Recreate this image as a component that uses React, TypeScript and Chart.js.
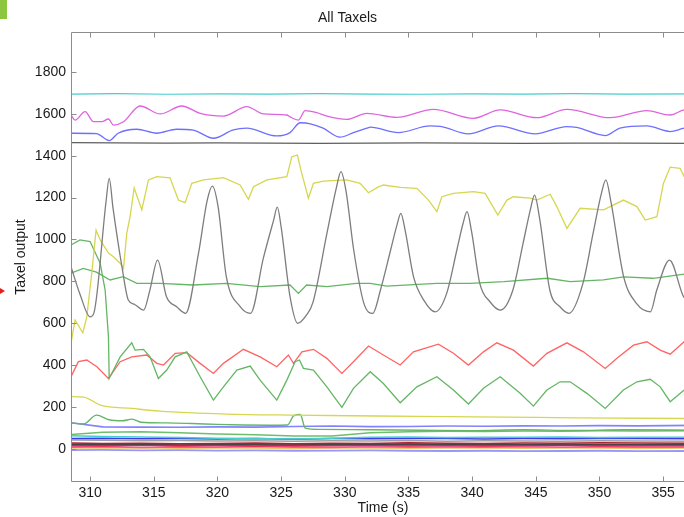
import React, { useEffect, useRef } from "react";
import { Chart, registerables } from "chart.js";

Chart.register(...registerables);

// ---- axes ----
const X_MIN = 308.5;
const X_MAX = 357.5;
const Y_MIN = -157;
const Y_MAX = 1990;
const X_TICKS = [310, 315, 320, 325, 330, 335, 340, 345, 350, 355];
const Y_TICKS = [0, 200, 400, 600, 800, 1000, 1200, 1400, 1600, 1800];

// ---- big gray oscillating taxel ----
const GRAY_T = [308.5, 309.2, 310, 310.3, 311.25, 311.5, 311.8, 312.5, 313.0, 313.5, 314.2, 314.7, 315.3, 316.0, 316.8, 317.5, 318.5, 319.2, 319.6, 320.05, 320.7, 321.8, 322.6, 323.6, 324.4, 324.7, 325.0, 325.7, 326.3, 327.0, 327.5, 328.6, 329.35, 329.7, 330.1, 330.7, 331.5, 332.2, 332.8, 333.6, 334.1, 334.4, 334.75, 335.4, 336.2, 337.1, 338.0, 338.8, 339.3, 339.6, 339.95, 340.6, 341.4, 342.2, 343.2, 344.0, 344.6, 344.9, 345.3, 346.1, 346.9, 347.6, 348.7, 349.5, 350.15, 350.5, 350.9, 351.9, 352.9, 354.0, 354.5, 355.5, 356.6, 357.5];
const GRAY_V = [870, 740, 631, 650, 1180, 1292, 1150, 870, 711, 690, 663, 760, 902, 727, 679, 648, 930, 1188, 1255, 1157, 822, 679, 648, 910, 1090, 1154, 1060, 727, 600, 640, 700, 1030, 1250, 1324, 1230, 950, 695, 648, 759, 950, 1070, 1125, 1040, 822, 711, 655, 743, 950, 1080, 1133, 1040, 791, 703, 663, 759, 982, 1150, 1212, 1100, 759, 679, 648, 791, 1030, 1220, 1284, 1180, 822, 695, 655, 759, 902, 727, 680];

// ---- upper yellow taxel ----
const YEL_T = [308.5, 308.82, 309.43, 309.74, 310.13, 310.47, 310.79, 311.44, 311.83, 312.36, 312.62, 312.88, 313.14, 313.46, 314.06, 314.58, 315.24, 316.28, 316.93, 317.46, 317.99, 318.9, 320.47, 321.78, 322.43, 322.83, 323.88, 325.45, 325.84, 326.28, 326.55, 327.14, 327.54, 328.32, 330.16, 331.2, 331.86, 332.6, 333.03, 334.35, 335.66, 336.57, 337.23, 337.62, 338.53, 340.1, 341.02, 341.55, 342.02, 342.73, 343.24, 344.56, 345.08, 346.13, 346.65, 347.44, 348.48, 350.31, 350.84, 351.88, 352.94, 353.59, 354.51, 355.02, 355.55, 356.33, 356.65, 357.5];
const YEL_V = [506, 616, 555, 631, 840, 1045, 998, 935, 918, 887, 862, 1031, 1109, 1246, 1141, 1284, 1300, 1294, 1188, 1176, 1268, 1284, 1295, 1260, 1192, 1252, 1284, 1300, 1395, 1403, 1332, 1197, 1268, 1279, 1284, 1268, 1223, 1250, 1260, 1249, 1244, 1188, 1133, 1204, 1220, 1228, 1220, 1165, 1117, 1188, 1204, 1197, 1188, 1216, 1157, 1053, 1149, 1141, 1157, 1188, 1157, 1093, 1109, 1268, 1345, 1340, 1300, 1290];

// ---- green taxel: high at start, drops, then oscillates ----
const GRN_T = [308.5, 309.21, 310.0, 310.79, 311.18, 311.44, 311.5, 312.36, 313.27, 313.53, 314.19, 314.71, 315.36, 316.02, 316.68, 317.59, 318.64, 319.68, 320.47, 321.52, 322.57, 323.35, 324.66, 325.45, 326.1, 326.44, 326.75, 327.54, 328.59, 329.77, 330.68, 332.0, 333.03, 334.35, 335.66, 337.23, 338.53, 339.71, 340.89, 342.2, 343.77, 344.81, 345.87, 346.91, 347.7, 349.01, 350.45, 351.88, 352.94, 353.98, 354.77, 355.55, 356.65, 357.5];
const GRN_V = [974, 998, 990, 887, 759, 536, 337, 440, 507, 472, 476, 440, 337, 377, 440, 464, 345, 234, 297, 377, 396, 329, 234, 329, 417, 425, 385, 377, 297, 199, 290, 369, 313, 221, 297, 345, 282, 215, 290, 345, 266, 205, 282, 321, 321, 266, 194, 282, 321, 333, 297, 226, 282, 320];

// ---- red taxel ----
const RED_T = [308.5, 309.08, 309.74, 310.53, 311.44, 312.36, 313.27, 314.45, 315.24, 315.76, 316.68, 317.59, 318.64, 319.68, 320.47, 322.04, 323.35, 324.66, 325.57, 325.97, 326.63, 327.54, 328.59, 329.77, 330.68, 331.86, 333.03, 334.35, 335.39, 337.35, 338.53, 339.71, 340.89, 341.94, 343.24, 344.81, 345.87, 347.44, 348.74, 350.45, 351.37, 352.67, 353.72, 354.77, 355.55, 356.65, 357.5];
const RED_V = [345, 417, 425, 393, 337, 417, 440, 449, 409, 401, 457, 460, 409, 361, 409, 476, 440, 393, 449, 409, 464, 476, 433, 361, 417, 492, 449, 401, 464, 501, 457, 401, 464, 507, 472, 396, 457, 507, 464, 385, 433, 496, 512, 472, 453, 512, 505];

// ---- green taxel near 800 ----
const GMID_T = [308.5, 309.47, 310.5, 311.57, 312.6, 313.67, 315.5, 318.1, 320.7, 323.35, 325.7, 326.36, 327.0, 328.6, 330.9, 332.0, 333.3, 337.2, 339.8, 342.5, 345.9, 347.7, 350.3, 351.9, 354.2, 356.65, 357.5];
const GMID_V = [839, 862, 844, 807, 823, 791, 791, 783, 791, 775, 783, 743, 783, 775, 791, 791, 778, 791, 791, 799, 815, 799, 807, 822, 815, 835, 840];

// ---- lower yellow taxel (slow decay) ----
const YLOW_T = [308.5, 309.5, 310.8, 313.3, 315.5, 320.7, 325.9, 332.6, 345.0, 356.65, 357.5];
const YLOW_V = [250, 248, 210, 194, 181, 167, 162, 158, 151, 146, 146];

// ---- top band taxels ----
const MAG_T = [308.5, 308.82, 309.61, 310.26, 310.92, 311.44, 311.83, 312.62, 313.93, 315.5, 317.2, 318.64, 320.47, 322.31, 323.61, 325.45, 325.7, 326.36, 326.89, 327.8, 328.59, 330.16, 331.73, 334.09, 336.96, 340.1, 342.2, 345.08, 347.44, 350.84, 353.72, 355.55, 356.65, 357.5];
const MAG_V = [1594, 1570, 1610, 1562, 1562, 1575, 1546, 1562, 1637, 1599, 1637, 1602, 1589, 1634, 1599, 1594, 1585, 1570, 1615, 1605, 1589, 1573, 1602, 1583, 1621, 1578, 1618, 1581, 1621, 1581, 1615, 1594, 1618, 1620];

const BLU_T = [308.5, 310.5, 311.5, 312.2, 313.67, 315.24, 316.8, 318.1, 319.68, 321.25, 322.3, 324.66, 325.7, 326.5, 327.3, 328.3, 329.63, 330.68, 331.73, 332.0, 334.2, 336.7, 337.5, 339.7, 342.07, 344.95, 347.44, 348.2, 350.45, 351.6, 353.72, 355.55, 356.65, 357.5];
const BLU_V = [1507, 1505, 1472, 1507, 1526, 1507, 1526, 1522, 1483, 1523, 1531, 1494, 1510, 1557, 1552, 1531, 1488, 1510, 1531, 1536, 1510, 1542, 1540, 1504, 1542, 1504, 1539, 1535, 1496, 1531, 1542, 1515, 1531, 1535];

const FLAT_T = [308.5, 312, 316, 320, 324, 328, 332, 336, 340, 344, 348, 352, 357.5];
const CYAN_V = [1694, 1696, 1693, 1695, 1694, 1696, 1694, 1693, 1695, 1694, 1696, 1694, 1695];
const BLACK_V = [1462, 1461, 1460, 1461, 1460, 1459, 1460, 1461, 1460, 1459, 1460, 1460, 1459];

// ---- low green with bumps ----
const GL1_T = [308.5, 309.5, 310.5, 311.5, 312.5, 313.3, 314, 316, 318, 320, 322, 324, 325.5, 326.0, 326.5, 326.9, 328, 332, 336, 340, 344, 348, 352, 357.5];
const GL1_V = [125, 120, 162, 140, 135, 143, 128, 125, 122, 118, 115, 114, 115, 160, 165, 100, 94, 92, 90, 88, 92, 89, 92, 90];

// ---- low-level taxels near zero ----
const LOW_T = [308.5, 311, 314, 317, 320, 323, 326, 329, 332, 335, 338, 341, 344, 347, 350, 353, 357.5];
const LOW_BLUE1 = [126, 106, 105, 104, 106, 105, 108, 110, 107, 108, 110, 109, 111, 110, 112, 111, 113];
const LOW_GREEN2 = [70, 80, 83, 78, 72, 68, 63, 62, 78, 83, 85, 84, 86, 85, 87, 86, 88];
const LOW_CYAN = [64, 60, 58, 55, 52, 50, 48, 52, 56, 58, 55, 57, 56, 58, 55, 57, 56];
const LOW_BLUE2 = [50, 52, 49, 50, 48, 51, 47, 50, 49, 51, 50, 48, 50, 49, 51, 50, 49];
const LOW_GRAY = [43, 42, 40, 41, 39, 40, 38, 40, 39, 41, 38, 40, 39, 38, 40, 39, 38];
const LOW_DKRED = [29, 27, 28, 26, 27, 29, 26, 28, 27, 30, 28, 27, 29, 28, 30, 29, 28];
const LOW_BLACK = [22, 21, 23, 20, 22, 21, 20, 22, 21, 23, 22, 21, 22, 20, 22, 21, 22];
const LOW_RED1 = [18, 15, 20, 16, 19, 14, 18, 17, 20, 15, 19, 16, 18, 20, 15, 18, 17];
const LOW_RED2 = [24, 20, 22, 18, 23, 21, 24, 19, 22, 25, 21, 23, 20, 24, 22, 21, 23];
const LOW_PINK = [10, 12, 8, 11, 9, 13, 10, 8, 12, 9, 11, 10, 12, 9, 11, 10, 9];
const LOW_YEL = [6, 5, 7, 4, 6, 5, 3, 6, 5, 4, 6, 5, 4, 6, 5, 3, 5];
const LOW_LAV = [-5, -4, -6, -5, -7, -6, -8, -7, -6, -8, -9, -8, -10, -9, -8, -10, -9];

const SERIES = [
  { name: "gray", t: GRAY_T, v: GRAY_V, color: "rgb(125,125,125)", w: 1.3, smooth: true },
  { name: "yellow", t: YEL_T, v: YEL_V, color: "rgb(214,214,80)", w: 1.3, smooth: false },
  { name: "green", t: GRN_T, v: GRN_V, color: "rgb(100,182,100)", w: 1.3, smooth: false },
  { name: "red", t: RED_T, v: RED_V, color: "rgb(255,100,100)", w: 1.3, smooth: false },
  { name: "green800", t: GMID_T, v: GMID_V, color: "rgb(100,182,100)", w: 1.3, smooth: false },
  { name: "yellowLow", t: YLOW_T, v: YLOW_V, color: "rgb(214,214,80)", w: 1.3, smooth: true },
  { name: "magenta", t: MAG_T, v: MAG_V, color: "rgb(222,100,222)", w: 1.3, smooth: true },
  { name: "blue", t: BLU_T, v: BLU_V, color: "rgb(110,110,255)", w: 1.3, smooth: true },
  { name: "cyan", t: FLAT_T, v: CYAN_V, color: "rgb(70,205,205)", w: 1.2, smooth: false },
  { name: "black", t: FLAT_T, v: BLACK_V, color: "rgb(95,95,95)", w: 1.2, smooth: false },
  { name: "greenLow1", t: GL1_T, v: GL1_V, color: "rgb(100,182,100)", w: 1.4, smooth: true },
  { name: "blueLow1", t: LOW_T, v: LOW_BLUE1, color: "rgb(130,130,255)", w: 1.6, smooth: false },
  { name: "greenLow2", t: LOW_T, v: LOW_GREEN2, color: "rgb(110,190,110)", w: 1.5, smooth: false },
  { name: "cyanLow", t: LOW_T, v: LOW_CYAN, color: "rgb(70,205,205)", w: 1.5, smooth: false },
  { name: "blueLow2", t: LOW_T, v: LOW_BLUE2, color: "rgb(60,60,235)", w: 1.5, smooth: false },
  { name: "grayLow", t: LOW_T, v: LOW_GRAY, color: "rgb(160,160,160)", w: 1.5, smooth: false },
  { name: "darkRedLow", t: LOW_T, v: LOW_DKRED, color: "rgb(175,30,50)", w: 1.5, smooth: false },
  { name: "blackLow", t: LOW_T, v: LOW_BLACK, color: "rgb(70,70,70)", w: 1.3, smooth: false },
  { name: "redLow1", t: LOW_T, v: LOW_RED1, color: "rgb(240,40,80)", w: 1.8, smooth: false },
  { name: "redLow2", t: LOW_T, v: LOW_RED2, color: "rgb(255,110,110)", w: 1.8, smooth: false },
  { name: "pinkLow", t: LOW_T, v: LOW_PINK, color: "rgb(240,90,160)", w: 1.8, smooth: false },
  { name: "yellowLow2", t: LOW_T, v: LOW_YEL, color: "rgb(230,200,100)", w: 1.6, smooth: false },
  { name: "lavenderLow", t: LOW_T, v: LOW_LAV, color: "rgb(150,150,255)", w: 1.8, smooth: false },
];

const AXIS_COLOR = "#8c8c8c";
const FONT = "'Liberation Sans', Arial, Helvetica, sans-serif";

const boxPlugin = {
  id: "matlabBox",
  afterDatasetsDraw(chart: any) {
    const { ctx, chartArea, scales } = chart;
    const { left, right, top, bottom } = chartArea;
    const xs = scales.x;
    const ys = scales.y;
    const L = Math.round(left) + 0.5;
    const R = Math.round(right) - 0.5;
    const T = Math.round(top) + 0.5;
    const B = Math.round(bottom) - 0.5;
    ctx.save();
    ctx.strokeStyle = AXIS_COLOR;
    ctx.lineWidth = 1;
    ctx.beginPath();
    ctx.rect(L, T, R - L, B - T);
    const tl = 5;
    for (const v of X_TICKS) {
      const px = Math.round(xs.getPixelForValue(v)) + 0.5;
      ctx.moveTo(px, B);
      ctx.lineTo(px, B - tl);
      ctx.moveTo(px, T);
      ctx.lineTo(px, T + tl);
    }
    for (const v of Y_TICKS) {
      const py = Math.round(ys.getPixelForValue(v)) + 0.5;
      ctx.moveTo(L, py);
      ctx.lineTo(L + tl, py);
      ctx.moveTo(R, py);
      ctx.lineTo(R - tl, py);
    }
    ctx.stroke();
    ctx.restore();
  },
};

export default function App() {
  const ref = useRef<HTMLCanvasElement | null>(null);

  useEffect(() => {
    if (!ref.current) return;
    const datasets = SERIES.map((s) => ({
      label: s.name,
      data: s.t.map((t, i) => ({ x: t, y: s.v[i] })),
      borderColor: s.color,
      backgroundColor: s.color,
      borderWidth: s.w,
      pointRadius: 0,
      tension: 0,
      cubicInterpolationMode: s.smooth ? ("monotone" as const) : ("default" as const),
      fill: false,
    }));
    const chart = new Chart(ref.current, {
      type: "line",
      data: { datasets },
      options: {
        responsive: false,
        animation: false,
        events: [],
        layout: { padding: 0 },
        plugins: {
          legend: { display: false },
          tooltip: { enabled: false },
          title: {
            display: true,
            text: "All Taxels",
            color: "#1a1a1a",
            font: { family: FONT, size: 14, weight: "normal" },
            padding: { top: 9.4, bottom: 5.8 },
          },
        },
        scales: {
          x: {
            type: "linear",
            min: X_MIN,
            max: X_MAX,
            afterBuildTicks: (scale: any) => {
              scale.ticks = X_TICKS.map((value) => ({ value }));
            },
            afterFit: (scale: any) => {
              scale.height = 35;
            },
            grid: { display: false, drawTicks: false },
            border: { display: false },
            ticks: {
              autoSkip: false,
              maxRotation: 0,
              padding: 3,
              color: "#1a1a1a",
              font: { family: FONT, size: 14 },
              callback: (v: any) => String(v),
            },
            title: {
              display: true,
              text: "Time (s)",
              color: "#1a1a1a",
              font: { family: FONT, size: 14 },
              padding: { top: 0, bottom: 0.5 },
            },
          },
          y: {
            type: "linear",
            min: Y_MIN,
            max: Y_MAX,
            afterBuildTicks: (scale: any) => {
              scale.ticks = Y_TICKS.map((value) => ({ value }));
            },
            afterFit: (scale: any) => {
              scale.width = 71;
            },
            grid: { display: false, drawTicks: false },
            border: { display: false },
            ticks: {
              padding: 5,
              color: "#1a1a1a",
              font: { family: FONT, size: 14 },
              callback: (v: any) => String(v),
            },
            title: {
              display: true,
              text: "Taxel output",
              color: "#1a1a1a",
              font: { family: FONT, size: 14 },
              padding: { top: 12.5, bottom: 0 },
            },
          },
        },
      },
      plugins: [boxPlugin],
    });
    return () => chart.destroy();
  }, []);

  return (
    <div
      style={{
        position: "fixed",
        left: 0,
        top: 0,
        width: 684,
        height: 517,
        overflow: "hidden",
        background: "#fff",
      }}
    >
      <canvas ref={ref} width={695} height={517} style={{ display: "block" }} />
      <div
        style={{
          position: "absolute",
          left: 0,
          top: 0,
          width: 7,
          height: 19,
          background: "rgb(140,198,63)",
        }}
      />
      <div
        style={{
          position: "absolute",
          left: 0,
          top: 288,
          width: 0,
          height: 0,
          borderTop: "3px solid transparent",
          borderBottom: "3px solid transparent",
          borderLeft: "5px solid rgb(230,30,30)",
        }}
      />
    </div>
  );
}
